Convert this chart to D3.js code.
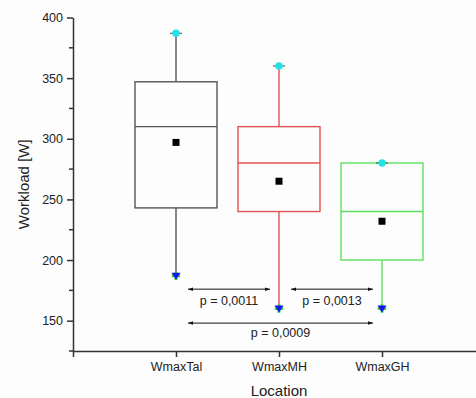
<!DOCTYPE html>
<html>
<head>
<meta charset="utf-8">
<script src="https://cdn.jsdelivr.net/npm/d3@7"></script>
<style>
  body { margin: 0; background: #fdfdfe; }
  svg { display: block; font-family: "Liberation Sans", Arial, sans-serif; }
</style>
</head>
<body>
<svg id="canvas" width="476" height="398"></svg>
<script>
// box data
const categories = ['WmaxTal', 'WmaxMH', 'WmaxGH'];
const q1 = [243, 240, 200];
const medians = [310, 280, 240];
const q3 = [347, 310, 280];
const means = [297, 265, 232];
const maxes = [387, 360, 280];
const mins = [187, 160, 160];
const boxColors = ['#555555', '#e05252', '#5ee05e'];

const yTicks = [150, 200, 250, 300, 350, 400];
const yMinorTicks = [125, 175, 225, 275, 325, 375];

// comparisons: [from category, to category, label]
const comparisons = [
    [0, 1, 'p = 0,0011'],
    [1, 2, 'p = 0,0013'],
    [0, 2, 'p = 0,0009']
];
const compLevels = [176, 176, 148];

const svg = d3.select('#canvas');

const x = d3.scaleLinear().domain([0, 4]).range([73, 485]);
const y = d3.scaleLinear().domain([125, 400]).range([351, 17.5]);

const boxWidth = 82;

// arrow heads
const defs = svg.append('defs');
defs.append('marker')
    .attr('id', 'arrowEnd')
    .attr('viewBox', '0 0 10 10')
    .attr('refX', 10).attr('refY', 5)
    .attr('markerWidth', 10).attr('markerHeight', 5)
    .attr('markerUnits', 'userSpaceOnUse')
    .attr('orient', 'auto')
    .append('path').attr('d', 'M0,1.5 L10,5 L0,8.5 Z').attr('fill', '#111');
defs.append('marker')
    .attr('id', 'arrowStart')
    .attr('viewBox', '0 0 10 10')
    .attr('refX', 0).attr('refY', 5)
    .attr('markerWidth', 10).attr('markerHeight', 5)
    .attr('markerUnits', 'userSpaceOnUse')
    .attr('orient', 'auto')
    .append('path').attr('d', 'M10,1.5 L0,5 L10,8.5 Z').attr('fill', '#111');

// y axis
const yAxis = svg.append('g')
    .attr('transform', 'translate(' + x(0) + ',0)')
    .call(d3.axisLeft(y).tickValues(yTicks).tickSize(6).tickSizeOuter(0).tickPadding(4));
yAxis.selectAll('.tick text').attr('font-size', 12.5).attr('fill', '#222');

const minor = svg.append('g')
    .attr('transform', 'translate(' + x(0) + ',0)')
    .selectAll('line')
    .data(yMinorTicks)
    .enter()
    .append('line')
    .attr('class', 'minor')
    .attr('x1', -4).attr('x2', 0)
    .attr('y1', d => y(d)).attr('y2', d => y(d));

// x axis
const xAxis = svg.append('g')
    .attr('transform', 'translate(0,' + y(125) + ')')
    .call(d3.axisBottom(x)
        .tickValues([0, 1, 2, 3])
        .tickFormat(d => d === 0 ? '' : categories[d - 1])
        .tickSize(6).tickSizeOuter(0).tickPadding(5));
xAxis.selectAll('.tick text').attr('font-size', 12.5).attr('fill', '#222');

svg.selectAll('.domain, .tick line, .minor').attr('stroke', '#333').attr('stroke-width', 1.5);

// axis titles
svg.append('text')
    .attr('x', 23).attr('y', y(262.5))
    .attr('transform', 'rotate(-90,23,' + y(262.5) + ')')
    .attr('text-anchor', 'middle').attr('dominant-baseline', 'central')
    .attr('font-size', 15).attr('fill', '#222')
    .text('Workload [W]');

svg.append('text')
    .attr('x', x(2)).attr('y', 390)
    .attr('text-anchor', 'middle').attr('dominant-baseline', 'central')
    .attr('font-size', 15).attr('fill', '#222')
    .text('Location');

// boxes
const boxes = svg.append('g').selectAll('g')
    .data(categories)
    .enter()
    .append('g');

boxes.append('line')
    .attr('x1', (d, i) => x(i + 1)).attr('x2', (d, i) => x(i + 1))
    .attr('y1', (d, i) => y(maxes[i])).attr('y2', (d, i) => y(q3[i]))
    .attr('stroke', (d, i) => boxColors[i]).attr('stroke-width', 1.4);

boxes.append('line')
    .attr('x1', (d, i) => x(i + 1)).attr('x2', (d, i) => x(i + 1))
    .attr('y1', (d, i) => y(q1[i])).attr('y2', (d, i) => y(mins[i]))
    .attr('stroke', (d, i) => boxColors[i]).attr('stroke-width', 1.4);

boxes.append('rect')
    .attr('x', (d, i) => x(i + 1) - boxWidth / 2)
    .attr('width', boxWidth)
    .attr('y', (d, i) => y(q3[i]))
    .attr('height', (d, i) => y(q1[i]) - y(q3[i]))
    .attr('fill', 'none')
    .attr('stroke', (d, i) => boxColors[i]).attr('stroke-width', 1.4);

boxes.append('line')
    .attr('x1', (d, i) => x(i + 1) - boxWidth / 2).attr('x2', (d, i) => x(i + 1) + boxWidth / 2)
    .attr('y1', (d, i) => y(medians[i])).attr('y2', (d, i) => y(medians[i]))
    .attr('stroke', (d, i) => boxColors[i]).attr('stroke-width', 1.4);

// mean squares
boxes.append('rect')
    .attr('x', (d, i) => x(i + 1) - 3.5)
    .attr('y', (d, i) => y(means[i]) - 3.5)
    .attr('width', 7).attr('height', 7)
    .attr('fill', '#000');

// max markers
boxes.append('line')
    .attr('x1', (d, i) => x(i + 1) - 6).attr('x2', (d, i) => x(i + 1) + 6)
    .attr('y1', (d, i) => y(maxes[i])).attr('y2', (d, i) => y(maxes[i]))
    .attr('stroke', '#444').attr('stroke-width', 1);
boxes.append('circle')
    .attr('cx', (d, i) => x(i + 1))
    .attr('cy', (d, i) => y(maxes[i]))
    .attr('r', 3.7)
    .attr('fill', '#22e2e8');

// min markers
boxes.append('path')
    .attr('d', d3.symbol(d3.symbolCross, 40))
    .attr('transform', (d, i) => 'translate(' + x(i + 1) + ',' + y(mins[i]) + ')')
    .attr('fill', '#3ed43e');
boxes.append('path')
    .attr('d', 'M-4.5,-3 L4.5,-3 L0,4 Z')
    .attr('transform', (d, i) => 'translate(' + x(i + 1) + ',' + y(mins[i]) + ')')
    .attr('fill', '#1515f0');

// p-value arrows
const comps = svg.append('g').selectAll('g')
    .data(comparisons)
    .enter()
    .append('g');

comps.append('line')
    .attr('x1', d => x(d[0] + 1) + 12)
    .attr('x2', d => x(d[1] + 1) - 9)
    .attr('y1', (d, i) => y(compLevels[i]))
    .attr('y2', (d, i) => y(compLevels[i]))
    .attr('stroke', '#111').attr('stroke-width', 1)
    .attr('marker-start', 'url(#arrowStart)')
    .attr('marker-end', 'url(#arrowEnd)');

comps.append('text')
    .attr('x', d => (x(d[0] + 1) + 12 + x(d[1] + 1) - 9) / 2)
    .attr('y', (d, i) => y(compLevels[i]) + (i === 2 ? 10 : 12))
    .attr('text-anchor', 'middle').attr('dominant-baseline', 'central')
    .attr('font-size', 12.5).attr('fill', '#222')
    .text(d => d[2]);
</script>
</body>
</html>
